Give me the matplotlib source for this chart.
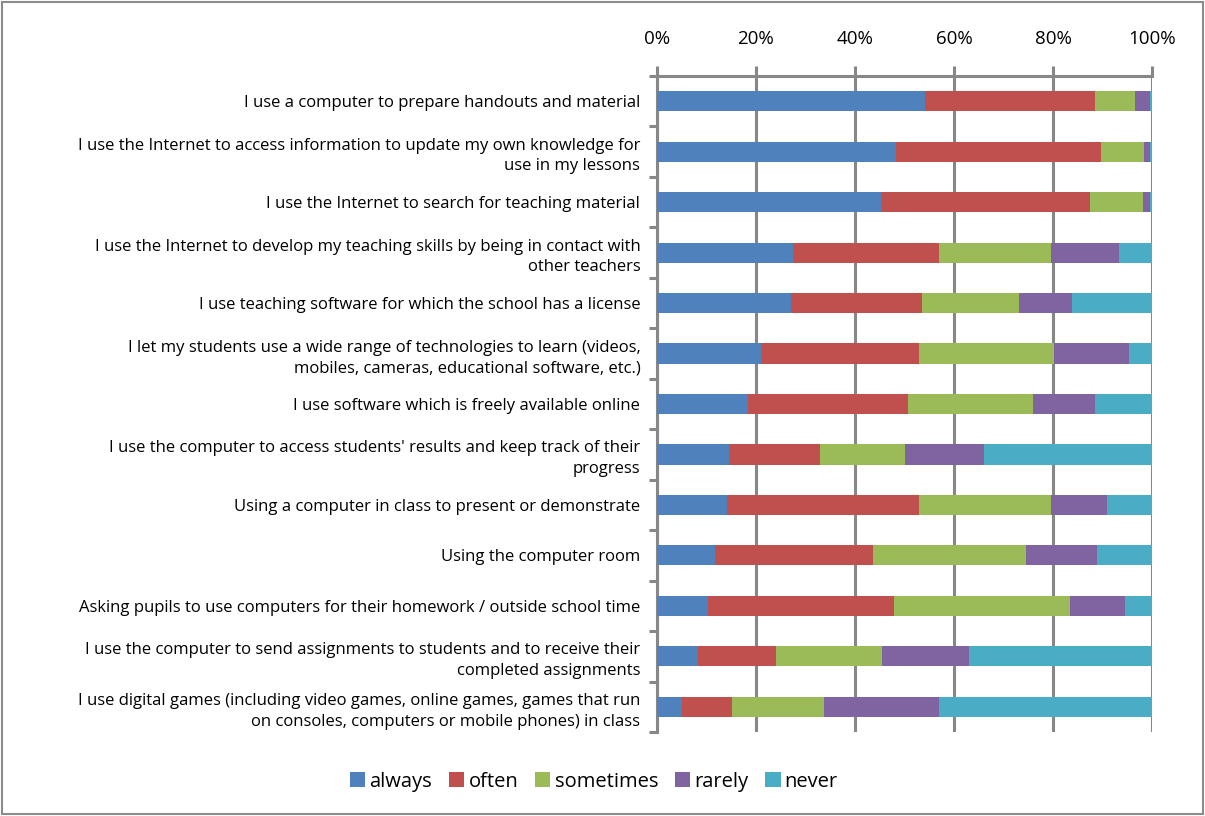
import numpy as np
import matplotlib
matplotlib.use("Agg")
import matplotlib.pyplot as plt
from matplotlib.patches import Rectangle

plt.rcParams['font.family'] = ['Open Sans', 'DejaVu Sans']

# Data (share of teachers, %)
categories = [
    "I use a computer to prepare handouts and material",
    "I use the Internet to access information to update my own knowledge for\nuse in my lessons",
    "I use the Internet to search for teaching material",
    "I use the Internet to develop my teaching skills by being in contact with\nother teachers",
    "I use teaching software for which the school has a license",
    "I let my students use a wide range of technologies to learn (videos,\nmobiles, cameras, educational software, etc.)",
    "I use software which is freely available online",
    "I use the computer to access students' results and keep track of their\nprogress",
    "Using a computer in class to present or demonstrate",
    "Using the computer room",
    "Asking pupils to use computers for their homework / outside school time",
    "I use the computer to send assignments to students and to receive their\ncompleted assignments",
    "I use digital games (including video games, online games, games that run\non consoles, computers or mobile phones) in class",
]
always    = [54.1, 48.3, 45.2, 27.4, 27.0, 21.0, 18.4, 14.5, 14.2, 11.8, 10.3, 8.3, 5.0]
often     = [34.3, 41.5, 42.2, 29.5, 26.6, 31.9, 32.4, 18.5, 38.7, 31.9, 37.6, 15.8, 10.2]
sometimes = [8.2, 8.6, 10.7, 22.7, 19.6, 27.3, 25.2, 17.2, 26.7, 30.9, 35.6, 21.4, 18.6]
rarely    = [2.9, 1.1, 1.4, 13.8, 10.6, 15.1, 12.4, 15.9, 11.4, 14.2, 11.0, 17.6, 23.1]
never     = [0.5, 0.5, 0.5, 6.6, 16.2, 4.7, 11.6, 33.9, 9.0, 11.2, 5.5, 36.9, 43.1]

series = [("always", always), ("often", often), ("sometimes", sometimes),
          ("rarely", rarely), ("never", never)]
colors = ["#4F81BD", "#C0504D", "#9BBB59", "#8064A2", "#4BACC6"]
xticks = [0, 20, 40, 60, 80, 100]

fig = plt.figure(figsize=(12.05, 8.16), dpi=100)
ax = fig.add_axes([0.5452, 0.1029, 0.4108, 0.804])

y = np.arange(len(categories))
left = np.zeros(len(categories))
for (name, vals), c in zip(series, colors):
    vals = np.array(vals)
    ax.barh(y, vals, left=left, height=0.4, color=c, label=name, zorder=3)
    left += vals

ax.set_xlim(0, 100)
ax.set_ylim(len(categories) - 0.5, -0.5)

ax.xaxis.tick_top()
ax.set_xticks(xticks)
ax.set_xticklabels([f"{t}%" for t in xticks], fontsize=13.5)
ax.tick_params(axis='x', direction='out', length=7, width=2.2, color='#878787', pad=13)
ax.grid(axis='x', color='#878787', linewidth=2.2, zorder=0)

ax.set_yticks(y)
ax.set_yticklabels(categories, fontsize=12, linespacing=1.4)
ax.tick_params(axis='y', which='major', length=0, pad=12)
ax.set_yticks(np.arange(-0.5, len(categories)), minor=True)
ax.tick_params(axis='y', which='minor', direction='out', length=6, width=2.2, color='#878787')

for s in ['right', 'bottom']:
    ax.spines[s].set_visible(False)
for s in ['top', 'left']:
    ax.spines[s].set_color('#878787')
    ax.spines[s].set_linewidth(2.2)

fig.legend(loc='center', bbox_to_anchor=(0.493, 0.042), ncol=5, frameon=False,
           fontsize=14.5, handlelength=0.75, handleheight=0.75, handletextpad=0.2,
           columnspacing=0.85)

fig.patches.append(Rectangle((0.002, 0.003), 0.996, 0.995, transform=fig.transFigure,
                             fill=False, edgecolor='#8c8c8c', linewidth=1.5))

fig.savefig("out.png", dpi=100)
